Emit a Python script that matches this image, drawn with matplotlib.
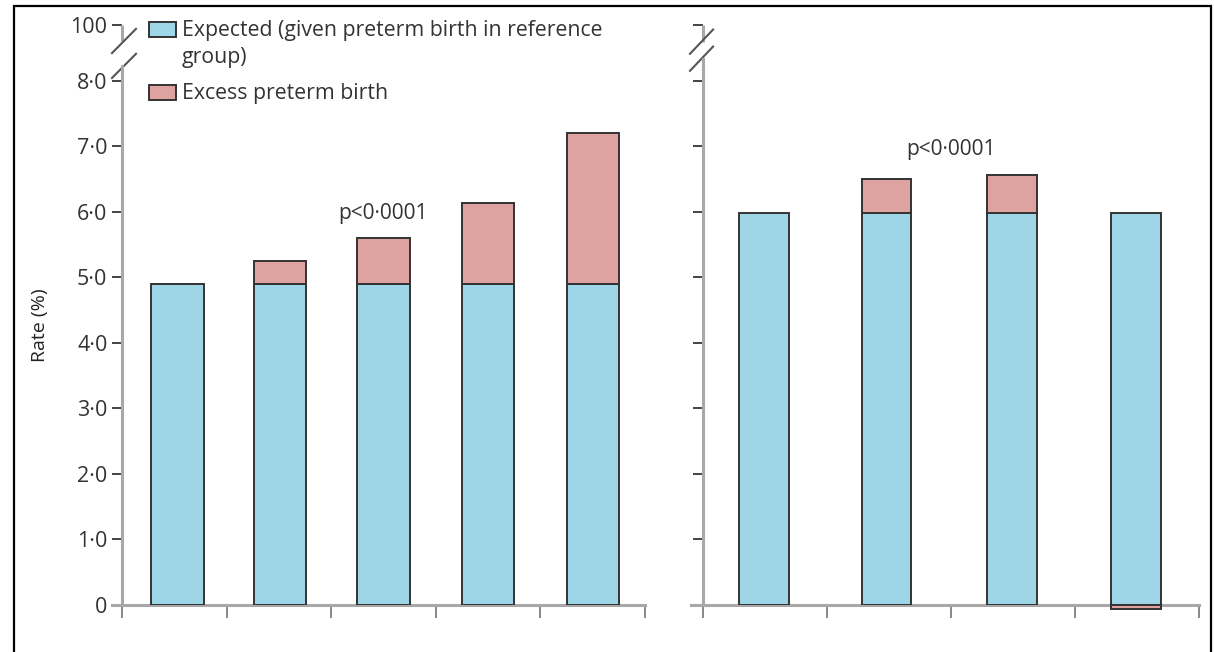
import numpy as np
import matplotlib
matplotlib.use("Agg")
import matplotlib.pyplot as plt
from matplotlib.patches import Rectangle

plt.rcParams['font.family'] = ['Open Sans', 'DejaVu Sans']

# ---- data ----
left_expected = [4.9, 4.9, 4.9, 4.9, 4.9]
left_excess = [0.0, 0.35, 0.7, 1.23, 2.3]
right_expected = [5.98, 5.98, 5.98, 5.98]
right_excess = [0.0, 0.52, 0.58, -0.06]
ytick_vals = [0, 1, 2, 3, 4, 5, 6, 7, 8]
ytick_labels = ['0', '1·0', '2·0', '3·0', '4·0', '5·0', '6·0', '7·0', '8·0']
top_label = '100'
legend_labels = ['Expected (given preterm birth in reference\ngroup)', 'Excess preterm birth']
pval_text = 'p<0·0001'

BLUE = '#9ed6e7'
PINK = '#dea3a0'
EDGE = '#333333'
AXC = '#a8a8a8'
TICKC = '#444444'
TXT = '#333333'

W, H = 1214, 652
fig = plt.figure(figsize=(W / 100, H / 100), dpi=100)

def px_axes(x0, x1, y0, y1):
    return fig.add_axes([x0 / W, 1 - y1 / H, (x1 - x0) / W, (y1 - y0) / H])

YTOP = 8.9
BREAK_TOP = 8.85

axL = px_axes(112, 645, 22, 605)
axR = px_axes(691, 1199, 22, 605)

def draw_panel(ax, expected, excess, width, xmax, dx_slash, cross, show_labels, shift):
    n = len(expected)
    x = np.arange(n) + 0.5 + np.array(shift)
    ax.bar(x, expected, width=width, color=BLUE, edgecolor=EDGE, linewidth=1.4, zorder=3)
    exc = np.array(excess)
    exp_ = np.array(expected)
    bottoms = np.where(exc >= 0, exp_, 0.0)
    for xi, b, h in zip(x, bottoms, exc):
        if h != 0:
            ax.bar(xi, h, bottom=b, width=width, color=PINK, edgecolor=EDGE,
                   linewidth=1.4, zorder=3, clip_on=False)
    ax.set_xlim(-dx_slash[2], xmax)
    ax.set_ylim(0, YTOP)
    for s in ['top', 'right']:
        ax.spines[s].set_visible(False)
    ax.spines['left'].set_position(('data', 0))
    ax.spines['left'].set_bounds(0, cross[1])
    ax.spines['left'].set_color(AXC)
    ax.spines['left'].set_linewidth(2.2)
    ax.spines['bottom'].set_color(AXC)
    ax.spines['bottom'].set_linewidth(2.2)
    ax.set_xticks(np.arange(0, xmax + 0.01, 1))
    ax.set_xticklabels([])
    ax.tick_params(axis='x', direction='out', length=9, width=1.4, color='#888888')
    ax.set_yticks(ytick_vals + [BREAK_TOP])
    if show_labels:
        ax.set_yticklabels(ytick_labels + [top_label], fontsize=15.5, color=TXT)
    else:
        ax.set_yticklabels([])
    ax.tick_params(axis='y', direction='out', length=7.5, width=1.4, color=TICKC, pad=3)
    # top segment of broken axis
    ax.plot([0, 0], [cross[0], BREAK_TOP], color=AXC, lw=2.2, clip_on=False, solid_capstyle='butt')
    # break slashes
    for c in cross:
        ax.plot([dx_slash[0], dx_slash[1]], [c - 0.185, c + 0.185], color='#555555',
                lw=1.5, clip_on=False)

draw_panel(axL, left_expected, left_excess, 0.5, 5, (-0.096, 0.134, 0.0956), (8.61, 8.23), True,
           [0.03, 0.01, 0.0, 0.0, 0.0])
draw_panel(axR, right_expected, right_excess, 0.4, 4, (-0.105, 0.081, 0.097), (8.60, 8.34), False,
           [-0.01, -0.02, -0.01, -0.01])

axL.text(2.5, 5.98, pval_text, ha='center', va='center', fontsize=15, color=TXT)
axR.text(2.0, 6.95, pval_text, ha='center', va='center', fontsize=15, color=TXT)

# y label
fig.text(40 / W, 1 - 325 / H, 'Rate (%)', rotation=90, ha='center', va='center',
         fontsize=14, color='#222222')

# legend
for (y0, y1), col in zip([(22, 37), (85, 100)], [BLUE, PINK]):
    fig.patches.append(Rectangle((149 / W, 1 - y1 / H), 27 / W, (y1 - y0) / H,
                                 transform=fig.transFigure, facecolor=col,
                                 edgecolor=EDGE, linewidth=1.4))
fig.text(182 / W, 1 - 20 / H, legend_labels[0], ha='left', va='top', fontsize=15.3,
         color=TXT, linespacing=1.38)
fig.text(182 / W, 1 - 93 / H, legend_labels[1], ha='left', va='center', fontsize=15.3,
         color=TXT)

# outer border
fig.patches.append(Rectangle((14 / W, -0.05), (1211 - 14) / W, (H - 6) / H + 0.05,
                             transform=fig.transFigure, fill=False, edgecolor='black',
                             linewidth=1.6))

fig.savefig('out.png', dpi=100)
